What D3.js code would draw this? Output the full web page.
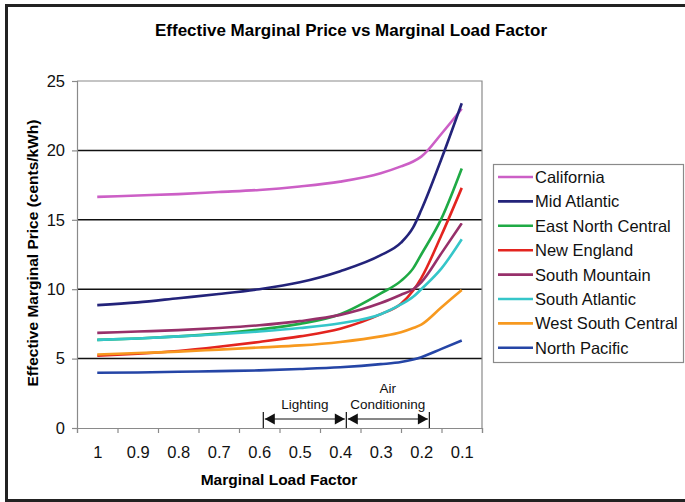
<!DOCTYPE html>
<html>
<head>
<meta charset="utf-8">
<script src="https://cdn.jsdelivr.net/npm/d3@7"></script>
<style>
  body { margin: 0; background: #fff; }
  svg { display: block; font-family: "Liberation Sans", Arial, sans-serif; }
</style>
</head>
<body>
<svg id="chart" width="685" height="502"></svg>
<script>
// load factor sample points (x)
var loadFactors = [1, 0.9, 0.8, 0.7, 0.6, 0.5, 0.4, 0.3, 0.25, 0.22, 0.2, 0.15, 0.1];

var regions = ["California", "Mid Atlantic", "East North Central", "New England",
               "South Mountain", "South Atlantic", "West South Central", "North Pacific"];
var colors = ["#cc5fc6", "#23237a", "#1faa45", "#e3241f", "#97306a", "#35c6c9", "#f7991f", "#2545a6"];

// cents/kWh for each region, same order as loadFactors
var california       = [16.65, 16.75, 16.85, 17.0, 17.15, 17.4, 17.75, 18.35, 18.85, 19.2, 19.55, 21.2, 23.0];
var midAtlantic      = [8.85, 9.05, 9.35, 9.65, 10.0, 10.5, 11.3, 12.45, 13.35, 14.45, 15.7, 19.4, 23.4];
var eastNorthCentral = [6.35, 6.45, 6.6, 6.8, 7.1, 7.5, 8.2, 9.7, 10.6, 11.5, 12.5, 15.1, 18.7];
var newEngland       = [5.2, 5.35, 5.55, 5.85, 6.2, 6.6, 7.15, 8.2, 8.95, 9.9, 10.8, 13.9, 17.3];
var southMountain    = [6.85, 6.95, 7.05, 7.2, 7.4, 7.7, 8.15, 9.0, 9.6, 10.0, 10.5, 12.6, 14.75];
var southAtlantic    = [6.35, 6.45, 6.6, 6.75, 6.95, 7.2, 7.55, 8.2, 8.9, 9.45, 10.0, 11.5, 13.6];
var westSouthCentral = [5.3, 5.4, 5.5, 5.65, 5.8, 5.95, 6.2, 6.6, 6.9, 7.2, 7.45, 8.7, 9.95];
var northPacific     = [3.98, 4.0, 4.05, 4.1, 4.15, 4.25, 4.38, 4.6, 4.75, 4.93, 5.1, 5.7, 6.3];

var seriesValues = [california, midAtlantic, eastNorthCentral, newEngland,
                    southMountain, southAtlantic, westSouthCentral, northPacific];

var xTickLabels = ["1", "0.9", "0.8", "0.7", "0.6", "0.5", "0.4", "0.3", "0.2", "0.1"];
var xTickValues = [1, 0.9, 0.8, 0.7, 0.6, 0.5, 0.4, 0.3, 0.2, 0.1];
var yTickValues = [0, 5, 10, 15, 20, 25];

// annotation ranges
var annotationLabels = [["Lighting"], ["Air", "Conditioning"]];
var annotationRanges = [[0.59, 0.385], [0.385, 0.18]];

var svg = d3.select("#chart");

// outer frame
svg.append("rect")
    .attr("x", 6.5).attr("y", 5.5)
    .attr("width", 700).attr("height", 495)
    .style("fill", "none").style("stroke", "#222").style("stroke-width", 3);

var plotLeft = 77, plotRight = 482, plotTop = 81, plotBottom = 428;

var x = d3.scaleLinear().domain([1.05, 0.05]).range([plotLeft, plotRight]);
var y = d3.scaleLinear().domain([0, 25]).range([plotBottom, plotTop]);

// title
svg.append("text")
    .attr("x", 351).attr("y", 36)
    .attr("text-anchor", "middle")
    .style("font-weight", "bold").style("font-size", "17px")
    .text("Effective Marginal Price vs Marginal Load Factor");

// gridlines
svg.append("g").selectAll("line")
    .data(yTickValues.filter(function (d) { return d > 0 && d < 25; }))
    .join("line")
    .attr("x1", plotLeft).attr("x2", plotRight)
    .attr("y1", function (d) { return y(d); }).attr("y2", function (d) { return y(d); })
    .style("stroke", "#111").style("stroke-width", 1.5);

// plot border top + right
svg.append("path")
    .attr("d", "M" + plotLeft + "," + y(25) + "H" + plotRight + "V" + plotBottom)
    .style("fill", "none").style("stroke", "#8a8a8a").style("stroke-width", 1.2);

// y axis
var yAxis = svg.append("g")
    .attr("transform", "translate(" + plotLeft + ",0)")
    .call(d3.axisLeft(y).tickValues(yTickValues).tickSize(5).tickPadding(7));
yAxis.selectAll("text").style("font-size", "16.5px").style("fill", "#111");

// x axis: boundary ticks
var boundaries = d3.range(11).map(function (i) { return 1.05 - i * 0.1; });
svg.append("g")
    .attr("transform", "translate(0," + plotBottom + ")")
    .call(d3.axisBottom(x).tickValues(boundaries).tickFormat("").tickSize(5));

// x axis: category labels
var xLab = svg.append("g")
    .attr("transform", "translate(0," + plotBottom + ")")
    .call(d3.axisBottom(x).tickValues(xTickValues)
        .tickFormat(function (d, i) { return xTickLabels[i]; })
        .tickSize(0).tickPadding(18));
xLab.select(".domain").remove();
xLab.selectAll("text").style("font-size", "16.5px").style("fill", "#111");

svg.selectAll(".domain, .tick line").style("stroke", "#8a8a8a").style("stroke-width", 1.2);

// axis titles
svg.append("text")
    .attr("x", 279).attr("y", 485)
    .attr("text-anchor", "middle")
    .style("font-weight", "bold").style("font-size", "15.5px")
    .text("Marginal Load Factor");

svg.append("text")
    .attr("transform", "translate(38,253) rotate(-90)")
    .attr("text-anchor", "middle")
    .style("font-weight", "bold").style("font-size", "15.5px")
    .text("Effective Marginal Price (cents/kWh)");

// lines
var line = d3.line()
    .x(function (d) { return x(d[0]); })
    .y(function (d) { return y(d[1]); })
    .curve(d3.curveMonotoneX);

seriesValues.forEach(function (vals, i) {
    svg.append("path")
        .datum(loadFactors.map(function (lf, j) { return [lf, vals[j]]; }))
        .attr("d", line)
        .style("fill", "none")
        .style("stroke", colors[i])
        .style("stroke-width", 2.6);
});

// annotations
var arrowY = 419;
var bars = [annotationRanges[0][0], annotationRanges[0][1], annotationRanges[1][1]];
svg.append("g").selectAll("line")
    .data(bars)
    .join("line")
    .attr("x1", function (d) { return x(d); }).attr("x2", function (d) { return x(d); })
    .attr("y1", 412).attr("y2", plotBottom)
    .style("stroke", "#111").style("stroke-width", 1.2);

annotationRanges.forEach(function (r, i) {
    var x0 = x(r[0]) + 1.5, x1 = x(r[1]) - 1.5;
    svg.append("line")
        .attr("x1", x0).attr("x2", x1).attr("y1", arrowY).attr("y2", arrowY)
        .style("stroke", "#111").style("stroke-width", 1.2);
    svg.append("path")
        .attr("d", "M" + x0 + "," + arrowY + "l10,-5.5v11z")
        .style("fill", "#111");
    svg.append("path")
        .attr("d", "M" + x1 + "," + arrowY + "l-10,-5.5v11z")
        .style("fill", "#111");
    var cx = (x(r[0]) + x(r[1])) / 2;
    var labels = annotationLabels[i];
    labels.forEach(function (t, k) {
        svg.append("text")
            .attr("x", cx)
            .attr("y", 409 - (labels.length - 1 - k) * 16)
            .attr("text-anchor", "middle")
            .style("font-size", "13.5px").style("fill", "#111")
            .text(t);
    });
});

// legend
var legend = svg.append("g");
legend.append("rect")
    .attr("x", 493.5).attr("y", 164.5)
    .attr("width", 190).attr("height", 198)
    .style("fill", "#fff").style("stroke", "#8a8a8a").style("stroke-width", 1.2);

var item = legend.selectAll("g.item")
    .data(regions)
    .join("g")
    .attr("class", "item")
    .attr("transform", function (d, i) { return "translate(0," + (177 + i * 24.4) + ")"; });
item.append("line")
    .attr("x1", 498).attr("x2", 533)
    .style("stroke", function (d, i) { return colors[i]; })
    .style("stroke-width", 2.6);
item.append("text")
    .attr("x", 535).attr("dy", "0.36em")
    .style("font-size", "16.5px").style("fill", "#111")
    .text(function (d) { return d; });
</script>
</body>
</html>
